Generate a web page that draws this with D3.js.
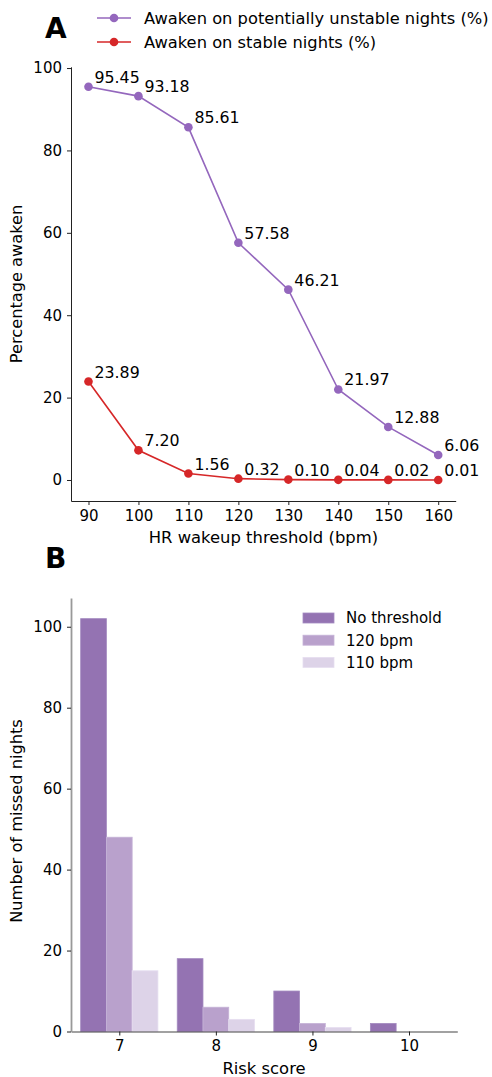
<!DOCTYPE html>
<html>
<head>
<meta charset="utf-8">
<script src="https://cdn.jsdelivr.net/npm/d3@7"></script>
<style>
  body { margin: 0; background: #fff; }
  svg { display: block; font-family: "DejaVu Sans", sans-serif; }
</style>
</head>
<body>
<svg width="492" height="1077"></svg>
<script>
// panel A data
var thresholds = [90, 100, 110, 120, 130, 140, 150, 160];
var unstableAwake = [95.45, 93.18, 85.61, 57.58, 46.21, 21.97, 12.88, 6.06];
var stableAwake = [23.89, 7.20, 1.56, 0.32, 0.10, 0.04, 0.02, 0.01];
var yTicksA = [0, 20, 40, 60, 80, 100];

// panel B data
var riskScores = [7, 8, 9, 10];
var missedNoThreshold = [102, 18, 10, 2];
var missed120 = [48, 6, 2, 0];
var missed110 = [15, 3, 1, 0];
var yTicksB = [0, 20, 40, 60, 80, 100];

var PURPLE = "#9467bd", RED = "#d62728";
var svg = d3.select("svg");

// ---------- panel A ----------
var xA = d3.scaleLinear().domain([86.5, 163.5]).range([71, 455.7]);
var yA = d3.scaleLinear().domain([-5.1, 100.3]).range([501, 66.8]);

svg.append("text").attr("x", 45).attr("y", 38)
   .style("font-size", "28px").style("font-weight", "bold").text("A");

var gx = svg.append("g").attr("transform", "translate(0,501)")
   .call(d3.axisBottom(xA).tickValues(thresholds).tickSize(4).tickPadding(5).tickSizeOuter(0));
var gy = svg.append("g").attr("transform", "translate(71,0)")
   .call(d3.axisLeft(yA).tickValues(yTicksA).tickSize(4).tickPadding(5).tickSizeOuter(0));
[gx, gy].forEach(function(g){
  g.selectAll("text").style("font-size", "15px").style("font-family", "DejaVu Sans").attr("fill", "#000");
  g.selectAll("line,path").attr("stroke", "#222");
});

svg.append("text").attr("x", 263.4).attr("y", 543).attr("text-anchor", "middle")
   .style("font-size", "16.4px").text("HR wakeup threshold (bpm)");
svg.append("text").attr("transform", "translate(22,284) rotate(-90)").attr("text-anchor", "middle")
   .style("font-size", "16.2px").text("Percentage awaken");

function drawSeries(vals, color) {
  var line = d3.line().x(function(d,i){ return xA(thresholds[i]); }).y(function(d){ return yA(d); });
  svg.append("path").datum(vals).attr("d", line).attr("fill", "none")
     .attr("stroke", color).attr("stroke-width", 1.6);
  svg.selectAll(null).data(vals).enter().append("circle")
     .attr("cx", function(d,i){ return xA(thresholds[i]); })
     .attr("cy", function(d){ return yA(d); })
     .attr("r", 4.3).attr("fill", color);
  svg.selectAll(null).data(vals).enter().append("text")
     .attr("x", function(d,i){ return xA(thresholds[i]) + 6; })
     .attr("y", function(d){ return yA(d) - 4; })
     .style("font-size", "15.8px")
     .text(function(d){ return d.toFixed(2); });
}
drawSeries(unstableAwake, PURPLE);
drawSeries(stableAwake, RED);

// legend A
var legA = [["Awaken on potentially unstable nights (%)", PURPLE], ["Awaken on stable nights (%)", RED]];
legA.forEach(function(l, i){
  var y = 18 + i * 24;
  svg.append("line").attr("x1", 97).attr("x2", 131).attr("y1", y).attr("y2", y)
     .attr("stroke", l[1]).attr("stroke-width", 1.6);
  svg.append("circle").attr("cx", 114).attr("cy", y).attr("r", 4.3).attr("fill", l[1]);
  svg.append("text").attr("x", 144).attr("y", y).attr("dy", "0.36em")
     .style("font-size", "16.3px").text(l[0]);
});

// ---------- panel B ----------
var xB = d3.scaleLinear().domain([6.5, 10.5]).range([71, 457.3]);
var yB = d3.scaleLinear().domain([0, 107.1]).range([1031.5, 598]);
var barW = 0.8 / 3;
var series = [
  { name: "No threshold", vals: missedNoThreshold, fill: "#9473b2", edge: "#a48bc0" },
  { name: "120 bpm", vals: missed120, fill: "#b9a1cc", edge: "#c6b3d7" },
  { name: "110 bpm", vals: missed110, fill: "#ddd3e8", edge: "#e6def0" }
];

svg.append("text").attr("x", 45).attr("y", 568)
   .style("font-size", "28px").style("font-weight", "bold").text("B");

series.forEach(function(s, k){
  svg.selectAll(null).data(s.vals).enter().append("rect")
     .filter(function(d){ return d > 0; })
     .attr("x", function(d,i){ return xB(riskScores[i] - 0.4 + k * barW); })
     .attr("width", xB(6.5 + barW) - xB(6.5))
     .attr("y", function(d){ return yB(d); })
     .attr("height", function(d){ return yB(0) - yB(d); })
     .attr("fill", s.fill).attr("stroke", s.edge).attr("stroke-width", 0.8);
});

var gxB = svg.append("g").attr("transform", "translate(0,1031.5)")
   .call(d3.axisBottom(xB).tickValues(riskScores).tickFormat(d3.format("d")).tickSize(4).tickPadding(5).tickSizeOuter(0));
var gyB = svg.append("g").attr("transform", "translate(71,0)")
   .call(d3.axisLeft(yB).tickValues(yTicksB).tickSize(4).tickPadding(5).tickSizeOuter(0));
[gxB, gyB].forEach(function(g){
  g.selectAll("text").style("font-size", "15px").style("font-family", "DejaVu Sans").attr("fill", "#000");
  g.selectAll("line").attr("stroke", "#222");
});
gxB.select("path").attr("stroke", "#444").attr("stroke-width", 1.2);
gyB.select("path").attr("stroke", "#999").attr("stroke-width", 1.8);

svg.append("text").attr("x", 264).attr("y", 1074).attr("text-anchor", "middle")
   .style("font-size", "16.4px").text("Risk score");
svg.append("text").attr("transform", "translate(22,821) rotate(-90)").attr("text-anchor", "middle")
   .style("font-size", "16.2px").text("Number of missed nights");

// legend B
series.forEach(function(s, i){
  var y = 618 + i * 22.2;
  svg.append("rect").attr("x", 303).attr("y", y - 5).attr("width", 31).attr("height", 10)
     .attr("fill", s.fill).attr("stroke", s.edge).attr("stroke-width", 0.8);
  svg.append("text").attr("x", 346).attr("y", y).attr("dy", "0.36em")
     .style("font-size", "15px").text(s.name);
});
</script>
</body>
</html>
